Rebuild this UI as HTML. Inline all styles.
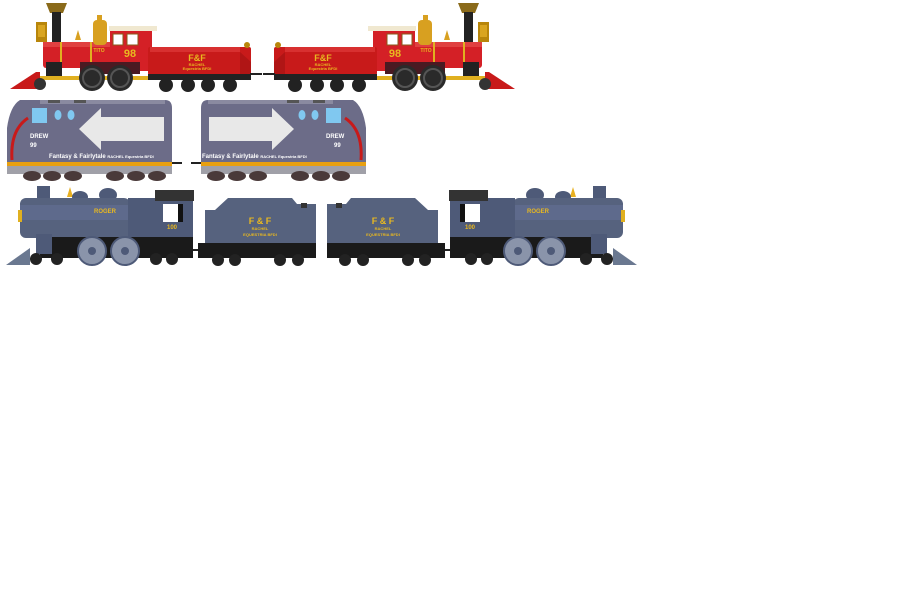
<!DOCTYPE html>
<html><head><meta charset="utf-8"><style>
html,body{margin:0;padding:0;background:#fff;width:900px;height:591px;overflow:hidden}
svg{display:block}
text{font-family:"Liberation Sans",sans-serif;font-weight:bold}
</style></head><body>
<svg width="900" height="591" viewBox="0 0 900 591" xmlns="http://www.w3.org/2000/svg">
<defs>
<g id="redloco">
  <polygon points="10,89 36,72 40,72 40,89" fill="#c81a1a"/>
  <rect x="36" y="22" width="11" height="20" fill="#b8860b"/>
  <rect x="38" y="25" width="7" height="12" fill="#d9a520"/>
  <polygon points="46,3 67,3 63,13 50,13" fill="#8a6a1a"/>
  <rect x="52" y="12" width="9" height="34" fill="#222"/>
  <rect x="43" y="42" width="70" height="26" rx="3" fill="#d42026"/>
  <rect x="43" y="42" width="70" height="5" fill="#e04040"/>
  <rect x="60" y="42" width="2" height="26" fill="#e0b020"/>
  <rect x="90" y="42" width="2" height="26" fill="#e0b020"/>
  <rect x="93" y="20" width="14" height="25" rx="4" fill="#d8a020"/>
  <rect x="97" y="15" width="5" height="6" fill="#d8a020"/>
  <polygon points="75,40 78,30 81,40" fill="#d8a020"/>
  <rect x="110" y="31" width="42" height="40" fill="#d42026"/>
  <rect x="109" y="26" width="48" height="5" fill="#f0e8d0"/>
  <rect x="113" y="34" width="10" height="11" fill="#fff" stroke="#8a5a1a"/>
  <rect x="127" y="34" width="11" height="11" fill="#fff" stroke="#8a5a1a"/>
  <rect x="80" y="62" width="60" height="12" fill="#4a1a22"/>
  <rect x="46" y="62" width="16" height="16" fill="#222"/>
  <rect x="40" y="76" width="110" height="4" fill="#e0b020"/>
  <circle cx="92" cy="78" r="13" fill="#2a2a2a"/><circle cx="92" cy="78" r="9" fill="none" stroke="#555" stroke-width="2"/>
  <circle cx="120" cy="78" r="13" fill="#2a2a2a"/><circle cx="120" cy="78" r="9" fill="none" stroke="#555" stroke-width="2"/>
  <circle cx="40" cy="84" r="6" fill="#333"/>
  <rect x="148" y="47" width="103" height="28" rx="2" fill="#c81a1a"/>
  <rect x="150" y="47" width="90" height="5" fill="#d83030"/>
  <polygon points="240,52 251,62 251,75 240,75" fill="#b01515"/>
  <circle cx="247" cy="45" r="3" fill="#b8860b"/>
  <rect x="148" y="74" width="103" height="6" fill="#222"/>
  <line x1="250" y1="74" x2="262" y2="74" stroke="#222" stroke-width="2"/>
  <circle cx="166" cy="85" r="7" fill="#222"/><circle cx="188" cy="85" r="7" fill="#222"/>
  <circle cx="208" cy="85" r="7" fill="#222"/><circle cx="230" cy="85" r="7" fill="#222"/>
</g>
<g id="diesel">
  <path d="M20,100 H165 Q172,100 172,108 V168 H7 V128 Q10,106 20,100 Z" fill="#6c6c88"/>
  <rect x="40" y="100" width="125" height="4" fill="#8a8aa0"/>
  <rect x="48" y="100" width="12" height="3" fill="#555"/><rect x="74" y="100" width="12" height="3" fill="#555"/>
  <path d="M28,118 Q10,130 12,160" fill="none" stroke="#c81a1a" stroke-width="3"/>
  <rect x="32" y="108" width="15" height="15" fill="#80c8f0"/>
  <ellipse cx="58" cy="115" rx="3.5" ry="5" fill="#80c8f0"/>
  <ellipse cx="71" cy="115" rx="3.5" ry="5" fill="#80c8f0"/>
  <rect x="101" y="117" width="63" height="24" fill="#e8e8e8"/>
  <polygon points="79,129 101,108 101,150" fill="#e8e8e8"/>
  <rect x="7" y="162" width="165" height="4" fill="#e8a010"/>
  <rect x="7" y="166" width="165" height="8" fill="#a0a0a8"/>
  <g fill="#4a3a3a">
  <ellipse cx="32" cy="176" rx="9" ry="5"/><ellipse cx="52" cy="176" rx="9" ry="5"/><ellipse cx="73" cy="176" rx="9" ry="5"/>
  <ellipse cx="115" cy="176" rx="9" ry="5"/><ellipse cx="136" cy="176" rx="9" ry="5"/><ellipse cx="157" cy="176" rx="9" ry="5"/>
  </g>
  <line x1="172" y1="163" x2="182" y2="163" stroke="#222" stroke-width="2"/>
</g>
<g id="blueloco">
  <polygon points="6,265 30,248 30,265" fill="#6a7890"/>
  <rect x="37" y="186" width="13" height="14" fill="#4e5a78"/>
  <polygon points="67,197 70,187 73,197" fill="#e8b020"/>
  <ellipse cx="80" cy="197" rx="8" ry="6" fill="#4e5a78"/>
  <ellipse cx="108" cy="195" rx="9" ry="7" fill="#4e5a78"/>
  <rect x="20" y="198" width="110" height="40" rx="6" fill="#56627e"/>
  <rect x="20" y="205" width="110" height="15" fill="#66729a" opacity="0.5"/>
  <rect x="18" y="210" width="4" height="12" fill="#e0b020"/>
  <rect x="128" y="198" width="65" height="40" fill="#4e5a78"/>
  <rect x="155" y="190" width="39" height="11" fill="#333"/>
  <rect x="163" y="204" width="20" height="18" fill="#fff"/>
  <rect x="178" y="204" width="5" height="18" fill="#111"/>
  <rect x="40" y="237" width="153" height="21" fill="#1a1a1a"/>
  <rect x="36" y="234" width="16" height="20" fill="#4e5a78"/>
  <circle cx="92" cy="251" r="14" fill="#8a94aa" stroke="#4e5a78" stroke-width="2"/><circle cx="92" cy="251" r="4" fill="#4e5a78"/>
  <circle cx="125" cy="251" r="14" fill="#8a94aa" stroke="#4e5a78" stroke-width="2"/><circle cx="125" cy="251" r="4" fill="#4e5a78"/>
  <g fill="#222"><circle cx="36" cy="259" r="6"/><circle cx="57" cy="259" r="6"/><circle cx="156" cy="259" r="6"/><circle cx="172" cy="259" r="6"/></g>
  <line x1="193" y1="250" x2="200" y2="250" stroke="#222" stroke-width="2"/>
  <polygon points="205,245 205,210 215,210 228,198 292,198 297,204 316,204 316,245" fill="#56627e"/>
  <rect x="301" y="203" width="6" height="5" fill="#333"/>
  <rect x="198" y="243" width="118" height="15" fill="#1a1a1a"/>
  <g fill="#222"><circle cx="218" cy="260" r="6"/><circle cx="235" cy="260" r="6"/><circle cx="280" cy="260" r="6"/><circle cx="298" cy="260" r="6"/></g>
</g>
</defs>
<use href="#redloco"/>
<use href="#redloco" transform="translate(525,0) scale(-1,1)"/>
<use href="#diesel"/>
<use href="#diesel" transform="translate(373,0) scale(-1,1)"/>
<use href="#blueloco"/>
<use href="#blueloco" transform="translate(643,0) scale(-1,1)"/>

<g fill="#e8b820" text-anchor="middle">
<text x="130" y="57" font-size="11">98</text><text x="395" y="57" font-size="11">98</text>
<text x="99" y="52" font-size="5">TITO</text><text x="426" y="52" font-size="5">TITO</text>
<text x="197" y="61" font-size="9">F&amp;F</text><text x="323" y="61" font-size="9">F&amp;F</text>
<text x="197" y="66" font-size="4">RACHEL</text><text x="323" y="66" font-size="4">RACHEL</text>
<text x="197" y="70" font-size="4">Equestria BFDI</text><text x="323" y="70" font-size="4">Equestria BFDI</text>
<text x="105" y="213" font-size="6">ROGER</text><text x="538" y="213" font-size="6">ROGER</text>
<text x="172" y="229" font-size="6">100</text><text x="470" y="229" font-size="6">100</text>
<text x="260" y="224" font-size="9">F &amp; F</text><text x="383" y="224" font-size="9">F &amp; F</text>
<text x="260" y="230" font-size="4">RACHEL</text><text x="383" y="230" font-size="4">RACHEL</text>
<text x="260" y="236" font-size="4">EQUESTRIA BFDI</text><text x="383" y="236" font-size="4">EQUESTRIA BFDI</text>
</g>
<g fill="#fff" font-size="6">
<text x="30" y="138">DREW</text><text x="30" y="147">99</text>
<text x="326" y="138">DREW</text><text x="334" y="147">99</text>
<text x="49" y="158" font-family="Liberation Serif">Fantasy &amp; Fairlytale <tspan font-size="4">RACHEL Equestria BFDI</tspan></text>
<text x="202" y="158" font-family="Liberation Serif">Fantasy &amp; Fairlytale <tspan font-size="4">RACHEL Equestria BFDI</tspan></text>
</g>
</svg>
</body></html>
